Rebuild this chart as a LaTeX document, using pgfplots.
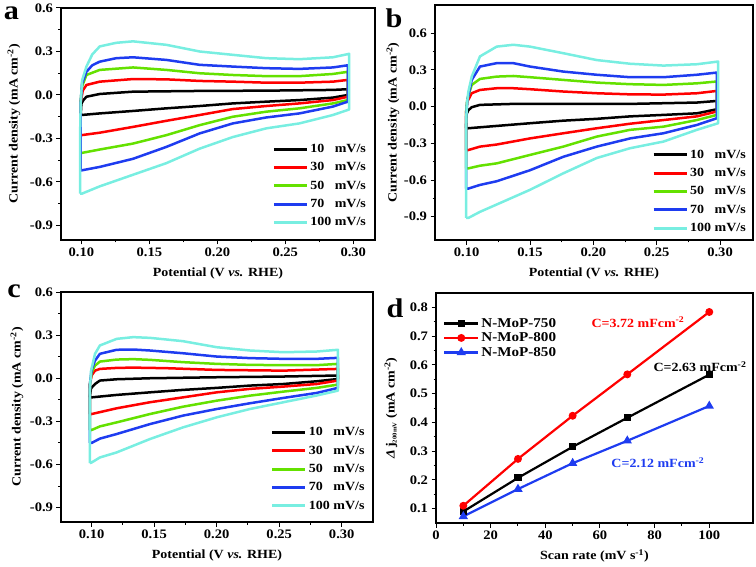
\documentclass[border=0pt]{standalone}
\usepackage{fontspec}
\setmainfont{Liberation Serif}[FakeStretch=1.12]
\usepackage{pgfplots}
\pgfplotsset{compat=1.18}
\definecolor{cvgreen}{RGB}{100,225,0}
\definecolor{cvblue}{RGB}{30,60,240}
\definecolor{cvcyan}{RGB}{120,238,225}
\definecolor{cvred}{RGB}{255,0,0}
\pgfplotsset{
  base/.style={
    scale only axis,
    axis line style={line width=1.3pt},
    tick align=outside,
    xtick pos=lower, ytick pos=left,
    major tick length=4.5pt, minor tick length=2.5pt,
    every tick/.style={black, line width=1pt},
    minor tick num=1,
    /pgf/number format/assume math mode=true,
    tick label style={font=\fontsize{13}{14}\selectfont\bfseries},
    label style={font=\fontsize{12.5}{14}\selectfont\bfseries},
    xlabel style={at={(axis description cs:0.5,0)}, anchor=center, yshift=-33pt},
  },
  cv/.style={
    base,
    xtick={0.10,0.15,0.20,0.25,0.30},
    ytick={-0.9,-0.6,-0.3,0,0.3,0.6},
    xticklabel style={/pgf/number format/.cd, fixed, fixed zerofill, precision=2},
    yticklabel style={/pgf/number format/.cd, fixed, fixed zerofill, precision=1},
    xlabel={Potential (V \textit{vs.} RHE)},
    ylabel={Current density (mA cm\textsuperscript{-2})},
    legend style={draw=none, fill=none, inner sep=0pt, font=\fontsize{12.5}{14}\selectfont\bfseries, row sep=4.5pt, cells={anchor=west}},
    legend image code/.code={\draw[#1, line width=3pt] (0pt,0pt) -- (33pt,0pt);},
    every axis plot/.append style={line width=2.5pt, line join=round},
  },
}
\begin{document}
\begin{tikzpicture}
\useasboundingbox (0pt,0pt) rectangle (756pt,566pt);
% ---------------- a ----------------
\begin{axis}[cv, at={(61pt,326pt)}, anchor=south west, width=314pt, height=232pt,
  xmin=0.085, xmax=0.316, ymin=-1.0, ymax=0.6,
  ylabel style={at={(axis description cs:-0.15,0.5)}, anchor=center},
  legend style={at={(0.978,0.045)}, anchor=south east}]
\addplot[black] coordinates {(0.0995,-0.14) (0.100,-0.06) (0.1015,-0.035) (0.1037,-0.012) (0.1135,0.007) (0.138,0.023) (0.187,0.028) (0.236,0.03) (0.285,0.035) (0.296,0.04) (0.296,0.0) (0.285,-0.018) (0.2604,-0.035) (0.236,-0.046) (0.2114,-0.058) (0.187,-0.076) (0.1625,-0.092) (0.138,-0.11) (0.1135,-0.127) (0.100,-0.138) (0.0995,-0.14)};
\addplot[cvred] coordinates {(0.0995,-0.28) (0.0995,-0.05) (0.1010,0.03) (0.1037,0.069) (0.1135,0.092) (0.138,0.11) (0.1625,0.108) (0.187,0.097) (0.2114,0.092) (0.236,0.085) (0.2604,0.085) (0.285,0.092) (0.296,0.104) (0.296,-0.012) (0.285,-0.035) (0.2604,-0.058) (0.236,-0.076) (0.2114,-0.097) (0.187,-0.138) (0.1625,-0.178) (0.138,-0.22) (0.1135,-0.26) (0.100,-0.277) (0.0995,-0.28)};
\addplot[cvgreen] coordinates {(0.0995,-0.40) (0.0995,-0.04) (0.1005,0.06) (0.1037,0.138) (0.1135,0.173) (0.138,0.19) (0.1625,0.173) (0.187,0.15) (0.2114,0.138) (0.236,0.13) (0.2604,0.13) (0.285,0.145) (0.296,0.16) (0.296,-0.035) (0.285,-0.058) (0.2604,-0.092) (0.236,-0.115) (0.2114,-0.15) (0.187,-0.208) (0.1625,-0.277) (0.138,-0.335) (0.1135,-0.376) (0.100,-0.40) (0.0995,-0.40)};
\addplot[cvblue] coordinates {(0.0995,-0.52) (0.0995,-0.05) (0.1005,0.08) (0.1037,0.16) (0.108,0.205) (0.1135,0.23) (0.1257,0.254) (0.138,0.26) (0.1625,0.242) (0.187,0.208) (0.2114,0.196) (0.236,0.185) (0.2604,0.18) (0.285,0.19) (0.296,0.205) (0.296,-0.046) (0.285,-0.08) (0.2604,-0.127) (0.236,-0.155) (0.2114,-0.196) (0.187,-0.265) (0.1625,-0.358) (0.138,-0.44) (0.1135,-0.496) (0.100,-0.52) (0.0995,-0.52)};
\addplot[cvcyan] coordinates {(0.0990,-0.68) (0.0990,-0.30) (0.0995,-0.05) (0.1005,0.10) (0.1037,0.196) (0.108,0.28) (0.1135,0.335) (0.1257,0.36) (0.138,0.37) (0.1625,0.346) (0.187,0.30) (0.2114,0.277) (0.236,0.254) (0.2604,0.247) (0.285,0.26) (0.297,0.284) (0.297,0.0) (0.297,-0.10) (0.285,-0.138) (0.2604,-0.196) (0.236,-0.23) (0.2114,-0.29) (0.187,-0.37) (0.1625,-0.47) (0.138,-0.55) (0.1135,-0.63) (0.1005,-0.68) (0.0990,-0.68)};
\legend{10\phantom{0} mV/s, 30\phantom{0} mV/s, 50\phantom{0} mV/s, 70\phantom{0} mV/s, 100 mV/s}
\end{axis}
% ---------------- b ----------------
\begin{axis}[cv, at={(435pt,326pt)}, anchor=south west, width=318pt, height=235pt,
  xmin=0.075, xmax=0.326, ymin=-1.09, ymax=0.83,
  ylabel style={at={(axis description cs:-0.132,0.5)}, anchor=center},
  legend style={at={(0.984,0.02)}, anchor=south east}]
\addplot[black] coordinates {(0.0995,-0.177) (0.1000,-0.06) (0.1013,-0.03) (0.104,-0.005) (0.1105,0.014) (0.1368,0.022) (0.1763,0.022) (0.229,0.022) (0.2817,0.033) (0.2975,0.046) (0.2975,-0.022) (0.2817,-0.055) (0.2553,-0.068) (0.229,-0.08) (0.2027,-0.10) (0.1763,-0.115) (0.15,-0.136) (0.1237,-0.158) (0.1013,-0.177) (0.0995,-0.177)};
\addplot[cvred] coordinates {(0.0995,-0.355) (0.0995,-0.05) (0.1005,0.04) (0.104,0.109) (0.1105,0.136) (0.1237,0.15) (0.1368,0.15) (0.15,0.142) (0.1763,0.123) (0.2027,0.109) (0.229,0.10) (0.2553,0.098) (0.2817,0.109) (0.2975,0.128) (0.2975,-0.04) (0.2817,-0.08) (0.2553,-0.11) (0.229,-0.14) (0.2027,-0.177) (0.1763,-0.218) (0.15,-0.26) (0.1237,-0.31) (0.1105,-0.327) (0.1013,-0.355) (0.0995,-0.355)};
\addplot[cvgreen] coordinates {(0.0995,-0.505) (0.0995,-0.05) (0.1005,0.06) (0.104,0.177) (0.1105,0.226) (0.1237,0.245) (0.1368,0.25) (0.15,0.24) (0.1763,0.218) (0.2027,0.196) (0.229,0.183) (0.2553,0.177) (0.2817,0.19) (0.2975,0.205) (0.2975,-0.068) (0.2817,-0.11) (0.2553,-0.164) (0.229,-0.19) (0.2027,-0.245) (0.1763,-0.327) (0.15,-0.395) (0.1237,-0.464) (0.1105,-0.483) (0.1013,-0.505) (0.0995,-0.505)};
\addplot[cvblue] coordinates {(0.0995,-0.67) (0.0995,-0.1) (0.1005,0.05) (0.104,0.218) (0.1105,0.327) (0.1237,0.355) (0.1368,0.355) (0.15,0.327) (0.1763,0.286) (0.2027,0.26) (0.229,0.24) (0.2553,0.24) (0.2817,0.26) (0.2975,0.278) (0.2975,-0.095) (0.2817,-0.15) (0.2553,-0.218) (0.229,-0.26) (0.2027,-0.327) (0.1763,-0.41) (0.15,-0.52) (0.1237,-0.61) (0.1105,-0.64) (0.1013,-0.67) (0.0995,-0.67)};
\addplot[cvcyan] coordinates {(0.0995,-0.91) (0.0995,-0.2) (0.1000,0.0) (0.1013,0.12) (0.104,0.245) (0.1105,0.41) (0.1237,0.49) (0.1368,0.505) (0.15,0.49) (0.1763,0.436) (0.2027,0.38) (0.229,0.35) (0.2553,0.335) (0.2817,0.346) (0.2985,0.368) (0.2985,-0.136) (0.2817,-0.19) (0.2553,-0.286) (0.229,-0.34) (0.2027,-0.42) (0.1763,-0.545) (0.15,-0.68) (0.1237,-0.80) (0.1105,-0.86) (0.1013,-0.91) (0.0995,-0.91)};
\legend{10\phantom{0} mV/s, 30\phantom{0} mV/s, 50\phantom{0} mV/s, 70\phantom{0} mV/s, 100 mV/s}
\end{axis}
% ---------------- c ----------------
\begin{axis}[cv, at={(61pt,44pt)}, anchor=south west, width=312pt, height=230pt,
  xmin=0.0755, xmax=0.325, ymin=-1.0, ymax=0.6,
  ylabel style={at={(axis description cs:-0.141,0.5)}, anchor=center},
  legend style={at={(0.98,0.04)}, anchor=south east}]
\addplot[black] coordinates {(0.0985,-0.133) (0.0995,-0.07) (0.1027,-0.04) (0.1066,-0.016) (0.12,-0.007) (0.1466,0.0) (0.20,0.007) (0.2533,0.012) (0.297,0.019) (0.297,-0.005) (0.28,-0.021) (0.2533,-0.04) (0.2266,-0.051) (0.20,-0.067) (0.173,-0.081) (0.1466,-0.098) (0.12,-0.116) (0.100,-0.133) (0.0985,-0.133)};
\addplot[cvred] coordinates {(0.0985,-0.25) (0.0985,-0.05) (0.1000,0.02) (0.1027,0.053) (0.1066,0.065) (0.12,0.072) (0.1333,0.074) (0.16,0.07) (0.20,0.058) (0.2533,0.053) (0.297,0.065) (0.297,-0.016) (0.28,-0.04) (0.2533,-0.058) (0.2266,-0.074) (0.20,-0.098) (0.173,-0.133) (0.1466,-0.167) (0.12,-0.209) (0.100,-0.249) (0.0985,-0.25)};
\addplot[cvgreen] coordinates {(0.0985,-0.36) (0.0985,-0.05) (0.1000,0.04) (0.1027,0.088) (0.1066,0.116) (0.12,0.13) (0.1333,0.133) (0.1466,0.128) (0.173,0.112) (0.20,0.10) (0.2266,0.093) (0.2533,0.091) (0.28,0.091) (0.297,0.10) (0.297,-0.044) (0.28,-0.067) (0.2533,-0.093) (0.2266,-0.121) (0.20,-0.156) (0.173,-0.198) (0.1466,-0.249) (0.12,-0.307) (0.1066,-0.335) (0.100,-0.36) (0.0985,-0.36)};
\addplot[cvblue] coordinates {(0.0985,-0.45) (0.0985,-0.05) (0.1000,0.06) (0.1027,0.123) (0.1066,0.17) (0.12,0.198) (0.1333,0.2) (0.1466,0.193) (0.173,0.174) (0.20,0.151) (0.2266,0.14) (0.2533,0.135) (0.28,0.135) (0.297,0.142) (0.297,-0.067) (0.28,-0.102) (0.2533,-0.137) (0.2266,-0.174) (0.20,-0.214) (0.173,-0.26) (0.1466,-0.319) (0.12,-0.388) (0.1066,-0.42) (0.100,-0.45) (0.0985,-0.45)};
\addplot[cvcyan] coordinates {(0.0985,-0.59) (0.0985,-0.1) (0.0995,0.05) (0.1027,0.17) (0.1066,0.228) (0.12,0.274) (0.1333,0.286) (0.1466,0.281) (0.173,0.258) (0.20,0.216) (0.2266,0.193) (0.2533,0.181) (0.28,0.186) (0.297,0.198) (0.297,-0.086) (0.28,-0.12) (0.2533,-0.167) (0.2266,-0.214) (0.20,-0.272) (0.173,-0.342) (0.1466,-0.423) (0.12,-0.516) (0.1066,-0.551) (0.100,-0.586) (0.0985,-0.59)};
\legend{10\phantom{0} mV/s, 30\phantom{0} mV/s, 50\phantom{0} mV/s, 70\phantom{0} mV/s, 100 mV/s}
\end{axis}
% ---------------- d ----------------
\begin{axis}[base, at={(436pt,43pt)}, anchor=south west, width=317pt, height=230pt,
  xmin=0, xmax=116, ymin=0.05, ymax=0.85,
  xtick={0,20,40,60,80,100},
  ytick={0.1,0.2,0.3,0.4,0.5,0.6,0.7,0.8},
  yticklabel style={/pgf/number format/.cd, fixed, fixed zerofill, precision=1},
  xlabel={Scan rate (mV s\textsuperscript{-1})},
  ylabel={\textit{Δ}\,j\textsubscript{\fontsize{6}{6}\selectfont 200mV} (mA cm\textsuperscript{-2})},
  ylabel style={at={(axis description cs:-0.142,0.5)}, anchor=center},
  every axis plot/.append style={line width=2.2pt},
  legend style={draw=none, fill=none, inner sep=0pt, font=\fontsize{13.5}{15}\selectfont\bfseries, row sep=0pt, cells={anchor=west}, at={(0.022,0.90)}, anchor=north west},
  legend image code/.code={\draw[mark repeat=2,mark phase=2,#1] plot coordinates {(0pt,0pt) (17pt,0pt) (34pt,0pt)};}]
\addplot[black, mark=square*, mark size=2.5pt] coordinates {(10,0.09) (30,0.207) (50,0.315) (70,0.416) (100,0.566)};
\addplot[cvred, mark=*, mark size=2.8pt] coordinates {(10,0.11) (30,0.273) (50,0.423) (70,0.567) (100,0.784)};
\addplot[cvblue, mark=triangle*, mark size=3.2pt] coordinates {(10,0.073) (30,0.168) (50,0.258) (70,0.336) (100,0.457)};
\legend{N-MoP-750, N-MoP-800, N-MoP-850}
\node[text=cvred, font=\fontsize{12.5}{13}\selectfont\bfseries] at (axis cs:73.9,0.749) {C=3.72 mFcm\textsuperscript{-2}};
\node[text=black, font=\fontsize{12.5}{13}\selectfont\bfseries] at (axis cs:96.6,0.593) {C=2.63 mFcm\textsuperscript{-2}};
\node[text=cvblue, font=\fontsize{12.5}{13}\selectfont\bfseries] at (axis cs:81.2,0.259) {C=2.12 mFcm\textsuperscript{-2}};
\end{axis}
% panel letters
\node[anchor=base, font=\fontsize{27}{27}\selectfont\bfseries] at (11.5pt,546pt) {a};
\node[anchor=base, font=\fontsize{27}{27}\selectfont\bfseries] at (394pt,538pt) {b};
\node[anchor=base, font=\fontsize{27}{27}\selectfont\bfseries] at (14pt,268pt) {c};
\node[anchor=base, font=\fontsize{27}{27}\selectfont\bfseries] at (395pt,248pt) {d};
\end{tikzpicture}
\end{document}
